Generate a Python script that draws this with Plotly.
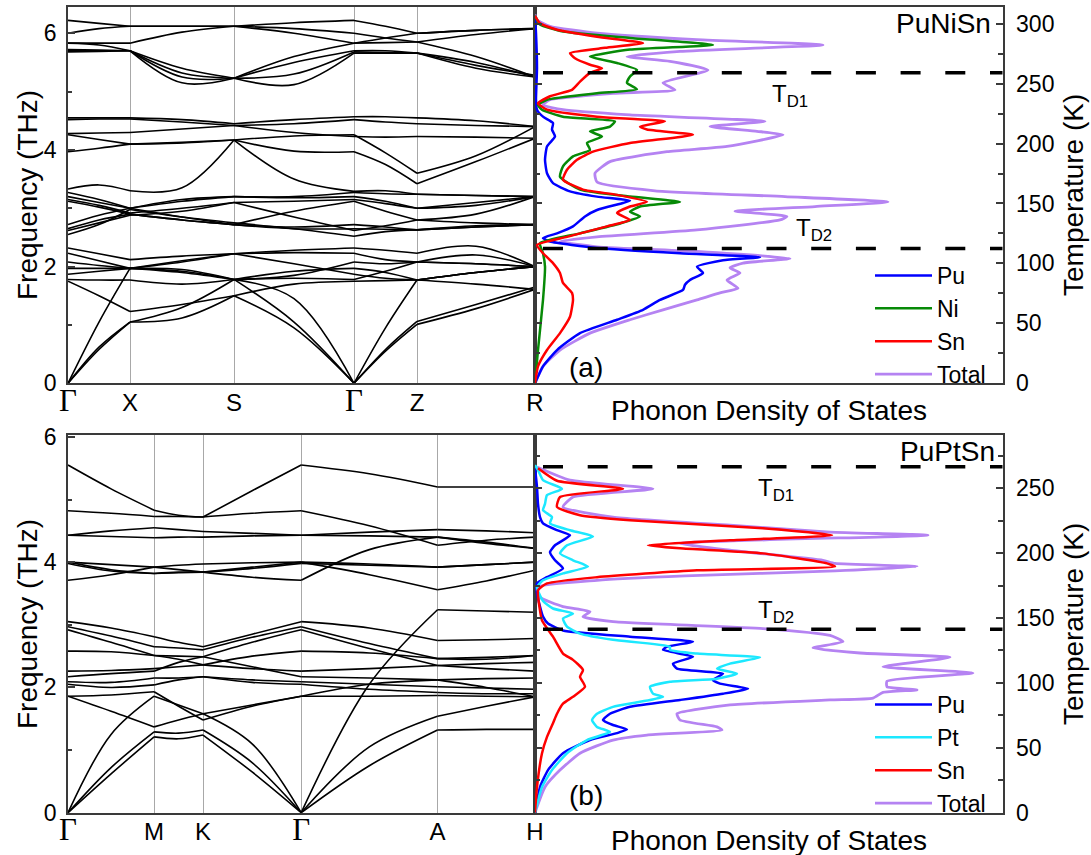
import plotly.graph_objects as go

W, H = 1091, 855

# ======================= (a) PuNiSn =======================
TOP_K = [0.0, 0.31, 0.62, 1.14, 1.66, 2.26, 2.86, 3.175, 3.49, 4.08, 4.67]
TOP_SYM_K = [0.0, 0.62, 1.66, 2.86, 3.49, 4.67]
TOP_SYM_LABELS = ["Γ", "X", "S", "Γ", "Z", "R"]

TOP_BANDS_HIGH = [
    [6.22, 6.17, 6.12, 6.12, 6.12, 6.18, 6.22, 6.12, 6.00, 6.05, 6.08],
    [6.00, 6.08, 6.12, 6.12, 6.12, 6.08, 6.00, 5.92, 5.85, 5.98, 6.08],
    [5.83, 5.83, 5.83, 6.02, 6.12, 6.00, 5.83, 5.92, 6.00, 6.05, 6.08],
    [5.83, 5.80, 5.70, 5.40, 5.23, 5.60, 5.83, 5.84, 5.85, 5.60, 5.25],
    [5.72, 5.71, 5.70, 5.25, 5.23, 5.50, 5.70, 5.70, 5.66, 5.50, 5.25],
    [5.70, 5.70, 5.70, 5.32, 5.23, 5.30, 5.68, 5.67, 5.66, 5.45, 5.28],
    [5.68, 5.69, 5.70, 5.15, 5.23, 5.12, 5.66, 5.66, 5.66, 5.40, 5.25],
]
TOP_BANDS_MID = [
    [4.55, 4.55, 4.55, 4.52, 4.45, 4.52, 4.57, 4.57, 4.55, 4.50, 4.40],
    [4.52, 4.53, 4.53, 4.48, 4.42, 4.45, 4.52, 4.48, 4.45, 4.42, 4.40],
    [4.28, 4.29, 4.30, 4.36, 4.42, 4.30, 4.23, 4.22, 4.23, 4.22, 4.20],
    [4.26, 4.18, 4.10, 4.12, 4.17, 4.24, 4.26, 3.95, 3.60, 3.90, 4.40],
    [3.97, 4.03, 4.10, 4.13, 4.17, 3.98, 3.97, 3.75, 3.42, 3.80, 4.20],
    [3.33, 3.40, 3.30, 3.35, 4.17, 3.50, 3.29, 3.30, 3.24, 3.22, 3.20],
]
TOP_BANDS_LOWMID = [
    [3.27, 3.15, 3.00, 3.12, 3.20, 3.20, 3.27, 3.25, 3.24, 3.22, 3.20],
    [3.20, 3.10, 3.00, 3.15, 3.20, 3.18, 3.20, 3.12, 3.00, 3.10, 3.20],
    [3.15, 3.05, 2.92, 3.00, 3.10, 3.12, 3.15, 3.08, 3.00, 3.05, 3.20],
    [3.12, 3.02, 2.90, 2.80, 2.72, 2.95, 3.12, 2.95, 2.80, 2.75, 2.72],
    [2.72, 2.88, 3.00, 2.85, 2.72, 2.68, 2.72, 2.68, 2.63, 2.70, 2.72],
    [2.65, 2.80, 2.90, 2.80, 2.72, 2.65, 2.65, 2.64, 2.63, 2.68, 2.72],
    [2.62, 2.75, 2.88, 2.95, 3.10, 2.85, 2.62, 2.70, 2.80, 2.90, 3.20],
    [2.55, 2.72, 2.98, 2.85, 2.75, 2.65, 2.52, 2.60, 2.63, 2.68, 2.72],
]
TOP_BANDS_LOW = [
    [2.32, 2.22, 2.12, 2.18, 2.22, 2.28, 2.32, 2.28, 2.23, 2.35, 2.00],
    [2.23, 2.10, 1.97, 2.10, 2.22, 2.24, 2.23, 2.12, 2.08, 2.20, 2.00],
    [2.08, 2.02, 1.97, 1.90, 1.78, 1.85, 2.08, 2.05, 2.08, 2.05, 2.00],
    [1.97, 1.97, 1.97, 1.92, 1.78, 1.92, 1.97, 1.90, 1.77, 1.90, 2.00],
    [1.87, 1.92, 1.97, 2.08, 2.22, 2.05, 1.87, 1.80, 1.77, 1.90, 2.00],
    [1.78, 1.77, 1.77, 1.70, 1.78, 1.80, 1.78, 1.92, 2.08, 2.05, 2.00],
    [1.75, 1.50, 1.23, 1.35, 1.50, 1.70, 1.75, 1.76, 1.77, 1.70, 1.61],
]
TOP_BANDS_ACOUSTIC = [
    [0.0, 0.58, 1.05, 1.12, 1.50, 0.95, 0.0, 0.55, 1.01, 1.28, 1.61],
    [0.0, 0.62, 1.05, 1.30, 1.78, 1.05, 0.0, 0.58, 1.06, 1.35, 1.65],
    [0.0, 1.05, 1.97, 1.95, 1.78, 1.45, 0.0, 0.95, 1.77, 1.90, 2.00],
]

TOP_PU_F = [0, 0.29, 0.57, 0.86, 1.09, 1.26, 1.43, 1.60, 1.69, 1.77, 1.89, 2.00, 2.11, 2.16, 2.23, 2.32, 2.43, 2.49,
            2.57, 2.69, 2.86, 2.97, 3.09, 3.13, 3.20, 3.29, 3.43, 3.60, 3.83, 4.06, 4.23, 4.35, 4.46, 4.57, 4.69,
            4.86, 5.40, 6.00, 6.30]
TOP_PU_D = [0, 8, 22, 45, 82, 108, 125, 148, 150, 155, 168, 162, 188, 225, 145, 62, 15, 8,
            22, 38, 50, 62, 88, 95, 62, 35, 18, 12, 10, 12, 20, 17, 18, 8, 2,
            1, 2, 1, 0]
TOP_NI_F = [0, 0.57, 1.43, 2.00, 2.23, 2.40, 2.57, 2.74, 2.86, 2.94, 3.03, 3.11, 3.20, 3.32, 3.54, 3.72, 3.89, 4.00,
            4.12, 4.23, 4.32, 4.40, 4.49, 4.57, 4.69, 4.77, 4.86, 4.97, 5.04, 5.15, 5.26, 5.37, 5.49, 5.60, 5.72,
            5.80, 5.92, 6.03, 6.15, 6.30]
TOP_NI_D = [0, 3, 8, 10, 8, 5, 45, 85, 105, 95, 105, 145, 95, 45, 25, 28, 38, 55,
            52, 67, 55, 75, 80, 28, 7, 3, 12, 62, 102, 92, 95, 102, 82, 55, 95,
            178, 95, 28, 5, 0]
TOP_SN_F = [0, 0.29, 0.57, 0.86, 1.14, 1.43, 1.55, 1.72, 1.89, 2.06, 2.23, 2.37, 2.51, 2.69, 2.80, 2.92, 3.03, 3.11,
            3.23, 3.32, 3.49, 3.66, 3.83, 3.97, 4.12, 4.26, 4.35, 4.40, 4.49, 4.57, 4.69, 4.80, 4.92, 5.03, 5.17,
            5.32, 5.40, 5.46, 5.57, 5.66, 5.75, 5.83, 5.94, 6.06, 6.17, 6.30]
TOP_SN_D = [0, 3, 12, 25, 35, 38, 37, 28, 25, 18, 8, 2, 32, 72, 95, 82, 95, 112,
            82, 48, 28, 32, 42, 58, 95, 158, 112, 105, 130, 62, 12, 3, 15, 37, 45,
            55, 67, 55, 40, 35, 70, 108, 62, 22, 5, 0]
TOP_TOT_F = [0, 0.29, 0.57, 0.86, 1.09, 1.26, 1.43, 1.55, 1.63, 1.77, 1.89, 1.98, 2.06, 2.14, 2.26, 2.34, 2.43, 2.51,
             2.63, 2.80, 2.86, 2.95, 3.03, 3.11, 3.20, 3.30, 3.45, 3.60, 3.80, 3.97, 4.06, 4.26, 4.32, 4.40, 4.49,
             4.60, 4.69, 4.77, 4.86, 4.97, 5.03, 5.15, 5.37, 5.52, 5.60, 5.69, 5.80, 5.89, 6.00, 6.12, 6.23, 6.32]
TOP_TOT_D = [0, 8, 25, 55, 95, 128, 162, 185, 203, 192, 205, 195, 208, 255, 162, 62, 25, 62,
             162, 245, 252, 200, 280, 353, 250, 120, 62, 60, 75, 132, 192, 248, 222, 175, 230,
             95, 28, 8, 15, 78, 140, 128, 173, 135, 92, 145, 288, 162, 62, 15, 2, 0]
TOP_TD = [259.0, 112.5]          # Debye temperatures T_D1, T_D2 (K)
TOP_FREQ_MAX = 6.45
TOP_TEMP_MAX = 313.9

# ======================= (b) PuPtSn =======================
BOT_K = [0.0, 0.4315, 0.863, 1.108, 1.353, 1.845, 2.337, 3.02, 3.703, 4.192, 4.68]
BOT_SYM_K = [0.0, 0.863, 1.353, 2.337, 3.703, 4.68]
BOT_SYM_LABELS = ["Γ", "M", "K", "Γ", "A", "H"]

BOT_BANDS_UPPER = [
    [5.55, 5.17, 4.83, 4.75, 4.72, 5.14, 5.55, 5.41, 5.20, 5.20, 5.20],
    [4.82, 4.78, 4.73, 4.73, 4.72, 4.78, 4.82, 4.58, 4.27, 4.35, 4.40],
    [4.43, 4.50, 4.55, 4.52, 4.49, 4.46, 4.43, 4.48, 4.52, 4.50, 4.47],
    [4.43, 4.41, 4.39, 4.40, 4.40, 4.42, 4.43, 4.42, 4.40, 4.32, 4.22],
    [4.00, 3.96, 3.92, 3.95, 3.97, 3.99, 4.00, 3.97, 3.92, 3.96, 4.00],
    [4.00, 3.88, 3.82, 3.83, 3.84, 3.92, 4.00, 3.80, 3.56, 3.70, 3.87],
    [3.98, 3.86, 3.82, 3.84, 3.84, 3.90, 3.98, 3.95, 3.92, 3.96, 4.00],
    [3.71, 3.80, 3.92, 3.88, 3.84, 3.76, 3.71, 4.20, 4.40, 4.30, 4.22],
]
BOT_BANDS_LOWER = [
    [3.05, 2.95, 2.81, 2.72, 2.65, 2.85, 3.05, 2.95, 2.75, 2.76, 2.78],
    [2.97, 2.82, 2.65, 2.63, 2.60, 2.80, 2.97, 2.70, 2.46, 2.48, 2.51],
    [2.92, 2.72, 2.51, 2.50, 2.49, 2.72, 2.92, 2.62, 2.35, 2.38, 2.40],
    [2.58, 2.57, 2.51, 2.45, 2.36, 2.50, 2.58, 2.55, 2.46, 2.45, 2.51],
    [2.26, 2.27, 2.30, 2.33, 2.36, 2.30, 2.26, 2.30, 2.35, 2.30, 2.26],
    [2.17, 2.22, 2.26, 2.40, 2.49, 2.33, 2.17, 2.15, 2.12, 2.14, 2.15],
    [2.09, 2.08, 2.15, 2.15, 2.17, 2.12, 2.09, 2.05, 2.01, 1.99, 1.97],
    [2.05, 2.00, 2.04, 2.12, 2.17, 2.08, 2.05, 1.97, 1.92, 1.90, 1.90],
    [1.86, 1.88, 1.93, 1.70, 1.48, 1.70, 1.86, 1.86, 1.87, 1.86, 1.85],
    [1.86, 1.62, 1.37, 1.48, 1.58, 1.72, 1.86, 2.05, 2.12, 2.00, 1.85],
]
BOT_BANDS_ACOUSTIC = [
    [0.0, 0.62, 1.21, 1.18, 1.24, 0.65, 0.0, 0.75, 1.32, 1.33, 1.33],
    [0.0, 0.72, 1.29, 1.27, 1.32, 0.80, 0.0, 1.05, 1.54, 1.70, 1.85],
    [0.0, 1.25, 1.86, 1.72, 1.58, 1.10, 0.0, 2.05, 3.24, 3.22, 3.20],
]

BOT_PU_F = [0, 0.41, 0.68, 0.95, 1.16, 1.27, 1.33, 1.40, 1.48, 1.58, 1.69, 1.80, 1.90, 1.98, 2.06, 2.12, 2.22, 2.30,
            2.38, 2.49, 2.60, 2.65, 2.73, 2.81, 2.91, 3.02, 3.13, 3.29, 3.50, 3.66, 3.76, 3.90, 4.03, 4.16, 4.27,
            4.43, 4.51, 4.62, 4.72, 4.93, 5.20, 5.50]
BOT_PU_D = [0, 5, 13, 28, 55, 82, 92, 78, 68, 75, 95, 145, 188, 213, 185, 178, 188, 142,
            138, 158, 128, 132, 158, 95, 28, 13, 8, 5, 2, 2, 12, 28, 20, 15, 20,
            35, 22, 8, 5, 3, 2, 0]
BOT_PT_F = [0, 0.41, 0.68, 0.95, 1.16, 1.29, 1.37, 1.48, 1.58, 1.69, 1.77, 1.85, 1.90, 2.01, 2.09, 2.14, 2.22, 2.30,
            2.38, 2.48, 2.54, 2.60, 2.65, 2.76, 2.86, 2.97, 3.10, 3.18, 3.26, 3.38, 3.60, 3.71, 3.82, 3.93, 4.03,
            4.14, 4.27, 4.41, 4.51, 4.62, 4.72, 4.83, 4.93, 5.07, 5.17, 5.31, 5.47, 5.55]
BOT_PT_D = [0, 7, 17, 32, 52, 75, 62, 57, 62, 78, 105, 128, 118, 115, 135, 182, 202, 182,
            195, 225, 162, 135, 135, 78, 45, 32, 28, 38, 18, 8, 2, 8, 28, 53, 38,
            25, 32, 58, 35, 15, 17, 8, 10, 12, 27, 8, 3, 0]
BOT_SN_F = [0, 0.41, 0.95, 1.21, 1.43, 1.58, 1.74, 1.85, 2.01, 2.17, 2.28, 2.44, 2.54, 2.81, 3.07, 3.23, 3.55, 3.66,
            3.76, 3.87, 3.93, 3.98, 4.14, 4.22, 4.27, 4.35, 4.43, 4.54, 4.67, 4.75, 4.88, 5.04, 5.17, 5.30, 5.50]
BOT_SN_D = [0, 2, 7, 12, 18, 22, 28, 38, 50, 45, 48, 38, 28, 18, 7, 5, 3, 12,
            62, 162, 300, 292, 228, 145, 113, 195, 297, 228, 95, 45, 22, 25, 88, 22, 3]
BOT_TOT_F = [0, 0.41, 0.68, 0.95, 1.16, 1.24, 1.32, 1.37, 1.48, 1.58, 1.72, 1.80, 1.83, 1.92, 1.96, 2.01, 2.10, 2.23,
             2.33, 2.48, 2.55, 2.63, 2.73, 2.83, 2.94, 3.05, 3.13, 3.21, 3.29, 3.44, 3.60, 3.71, 3.78, 3.86, 3.93,
             3.98, 4.03, 4.19, 4.30, 4.43, 4.48, 4.59, 4.72, 4.88, 5.04, 5.17, 5.31, 5.52]
BOT_TOT_D = [0, 10, 25, 45, 78, 112, 187, 182, 145, 142, 195, 295, 338, 348, 382, 352, 352, 438,
             348, 415, 325, 278, 308, 295, 228, 78, 48, 55, 28, 5, 2, 62, 150, 300, 382,
             300, 288, 195, 145, 393, 295, 195, 78, 28, 38, 118, 35, 2]
BOT_TD = [266.5, 141.3]
BOT_FREQ_MAX = 6.03
BOT_TEMP_MAX = 291.0

DOS_MAX = 467.7   # arbitrary DOS units spanning the DOS panel

# ======================= styling =======================
FRAME = "#3a3a3a"
GRID = "#a8a8a8"
C_PU, C_NI, C_SN, C_PT, C_TOT = "#0000FF", "#078A07", "#FF0000", "#1CE8FF", "#B583F2"
FONT = "Liberation Sans, Arial, sans-serif"


def px(x):
    return x / W


def py(y):
    return 1 - y / H


def seg_path(kpts, vals):
    xs, ys = [], []
    for s in range(0, len(kpts) - 1, 2):
        xs += list(kpts[s:s + 3]) + [None]
        ys += list(vals[s:s + 3]) + [None]
    return xs, ys


def sym_text(labels):
    out = []
    for t in labels:
        if t == "Γ":
            out.append('<span style="font-family:Liberation Serif, Times New Roman, serif;font-size:31px">Γ</span>')
        else:
            out.append(t)
    return out


fig = go.Figure()

# ---- band structures ----
for kpts, groups, xa, ya in [
    (TOP_K, [TOP_BANDS_HIGH, TOP_BANDS_MID, TOP_BANDS_LOWMID, TOP_BANDS_LOW, TOP_BANDS_ACOUSTIC], "x", "y"),
    (BOT_K, [BOT_BANDS_UPPER, BOT_BANDS_LOWER, BOT_BANDS_ACOUSTIC], "x3", "y4"),
]:
    for grp in groups:
        for band in grp:
            xs, ys = seg_path(kpts, band)
            fig.add_trace(go.Scatter(x=xs, y=ys, mode="lines", xaxis=xa, yaxis=ya,
                                     line=dict(color="black", width=1.6, shape="spline", smoothing=1.0),
                                     connectgaps=False, showlegend=False, hoverinfo="skip"))


# ---- DOS ----
def add_dos(f, d, name, color, width, xa, ya, legend, rank):
    fig.add_trace(go.Scatter(x=d, y=f, mode="lines", name=name, xaxis=xa, yaxis=ya,
                             line=dict(color=color, width=width, shape="spline", smoothing=0.5),
                             legend=legend, legendrank=rank, hoverinfo="skip"))


add_dos(TOP_TOT_F, TOP_TOT_D, "Total", C_TOT, 2.8, "x2", "y2", "legend", 4)
add_dos(TOP_PU_F, TOP_PU_D, "Pu", C_PU, 2.5, "x2", "y2", "legend", 1)
add_dos(TOP_NI_F, TOP_NI_D, "Ni", C_NI, 2.5, "x2", "y2", "legend", 2)
add_dos(TOP_SN_F, TOP_SN_D, "Sn", C_SN, 2.5, "x2", "y2", "legend", 3)

add_dos(BOT_TOT_F, BOT_TOT_D, "Total", C_TOT, 2.8, "x4", "y5", "legend2", 4)
add_dos(BOT_PU_F, BOT_PU_D, "Pu", C_PU, 2.5, "x4", "y5", "legend2", 1)
add_dos(BOT_PT_F, BOT_PT_D, "Pt", C_PT, 2.5, "x4", "y5", "legend2", 2)
add_dos(BOT_SN_F, BOT_SN_D, "Sn", C_SN, 2.5, "x4", "y5", "legend2", 3)

# ---- Debye temperature lines ----
for tds, xa, ya in [(TOP_TD, "x2", "y3"), (BOT_TD, "x4", "y6")]:
    for td in tds:
        fig.add_trace(go.Scatter(x=[0, DOS_MAX], y=[td, td], mode="lines", xaxis=xa, yaxis=ya,
                                 line=dict(color="black", width=3.5, dash="0px,8px,20px,16.7px"),
                                 showlegend=False, hoverinfo="skip"))

line_ax = dict(showline=True, linecolor=FRAME, linewidth=1.5, zeroline=False, automargin=False)


def band_x(anchor, kmax, symk, labels):
    return dict(domain=[px(68), px(535)], range=[0, kmax], tickvals=symk, ticktext=sym_text(labels),
                ticks="", showgrid=True, gridcolor=GRID, gridwidth=1, tickfont=dict(size=24),
                ticklabelstandoff=-3, anchor=anchor, mirror=True, **line_ax)


def band_y(dom, fmax, anchor):
    return dict(domain=dom, range=[0, fmax], tick0=0, dtick=2, ticks="inside", ticklen=7, tickwidth=1.5,
                tickcolor=FRAME, minor=dict(dtick=1, ticks="inside", ticklen=4, tickwidth=1.5, tickcolor=FRAME),
                showgrid=False, tickfont=dict(size=23), ticklabelstandoff=5, anchor=anchor, mirror=True, **line_ax)


def dos_x(anchor):
    return dict(domain=[px(535), px(1002.7)], range=[0, DOS_MAX], showticklabels=False, ticks="",
                showgrid=False, anchor=anchor, mirror=True, **line_ax)


def temp_y(over, anchor, tmax):
    return dict(overlaying=over, side="right", anchor=anchor, range=[0, tmax], tick0=0, dtick=50,
                ticks="inside", ticklen=7, tickwidth=1.5, tickcolor=FRAME,
                minor=dict(dtick=25, ticks="inside", ticklen=5, tickwidth=1.5, tickcolor=FRAME),
                showgrid=False, tickfont=dict(size=23), ticklabelstandoff=7, mirror="allticks", **line_ax)


TOP_DOM = [py(383.3), py(7)]
BOT_DOM = [py(812.7), py(435)]

fig.update_layout(
    template="none",
    width=W, height=H, margin=dict(l=0, r=0, t=0, b=0, pad=0), autosize=False,
    paper_bgcolor="white", plot_bgcolor="white",
    font=dict(family=FONT, color="black", size=23),
    xaxis=band_x("y", TOP_K[-1], TOP_SYM_K, TOP_SYM_LABELS),
    yaxis=band_y(TOP_DOM, TOP_FREQ_MAX, "x"),
    xaxis2=dos_x("y2"),
    yaxis2=dict(domain=TOP_DOM, range=[0, TOP_FREQ_MAX], visible=False, anchor="x2", automargin=False),
    yaxis3=temp_y("y2", "x2", TOP_TEMP_MAX),
    xaxis3=band_x("y4", BOT_K[-1], BOT_SYM_K, BOT_SYM_LABELS),
    yaxis4=band_y(BOT_DOM, BOT_FREQ_MAX, "x3"),
    xaxis4=dos_x("y5"),
    yaxis5=dict(domain=BOT_DOM, range=[0, BOT_FREQ_MAX], visible=False, anchor="x4", automargin=False),
    yaxis6=temp_y("y5", "x4", BOT_TEMP_MAX),
    legend=dict(x=px(870), y=py(254), xanchor="left", yanchor="top", bgcolor="rgba(0,0,0,0)",
                font=dict(size=23), itemwidth=57, tracegroupgap=0, borderwidth=0),
    legend2=dict(x=px(870), y=py(683), xanchor="left", yanchor="top", bgcolor="rgba(0,0,0,0)",
                 font=dict(size=23), itemwidth=57, tracegroupgap=0, borderwidth=0),
    showlegend=True,
)

ann = [
    dict(text="Frequency (THz)", x=px(27), y=py(195), textangle=-90, font=dict(size=28)),
    dict(text="Frequency (THz)", x=px(27), y=py(624), textangle=-90, font=dict(size=28)),
    dict(text="Temperature (K)", x=px(1073), y=py(195), textangle=-90, font=dict(size=28)),
    dict(text="Temperature (K)", x=px(1073), y=py(624), textangle=-90, font=dict(size=28)),
    dict(text="Phonon Density of States", x=px(769), y=py(410), font=dict(size=28)),
    dict(text="Phonon Density of States", x=px(769), y=py(840), font=dict(size=28)),
    dict(text="(a)", x=px(586), y=py(368), font=dict(size=28)),
    dict(text="(b)", x=px(586), y=py(795), font=dict(size=28)),
    dict(text="PuNiSn", x=px(993), y=py(23), xanchor="right", font=dict(size=28)),
    dict(text="PuPtSn", x=px(997), y=py(451), xanchor="right", font=dict(size=28)),
    dict(text="T<sub>D1</sub>", x=px(770), y=py(95), xanchor="left", font=dict(size=24)),
    dict(text="T<sub>D2</sub>", x=px(794), y=py(229), xanchor="left", font=dict(size=24)),
    dict(text="T<sub>D1</sub>", x=px(756), y=py(489), xanchor="left", font=dict(size=24)),
    dict(text="T<sub>D2</sub>", x=px(756), y=py(611), xanchor="left", font=dict(size=24)),
]
for a in ann:
    a.setdefault("xanchor", "center")
    a.update(xref="paper", yref="paper", showarrow=False, yanchor="middle")
fig.update_layout(annotations=ann)

fig.write_html("out.html")
